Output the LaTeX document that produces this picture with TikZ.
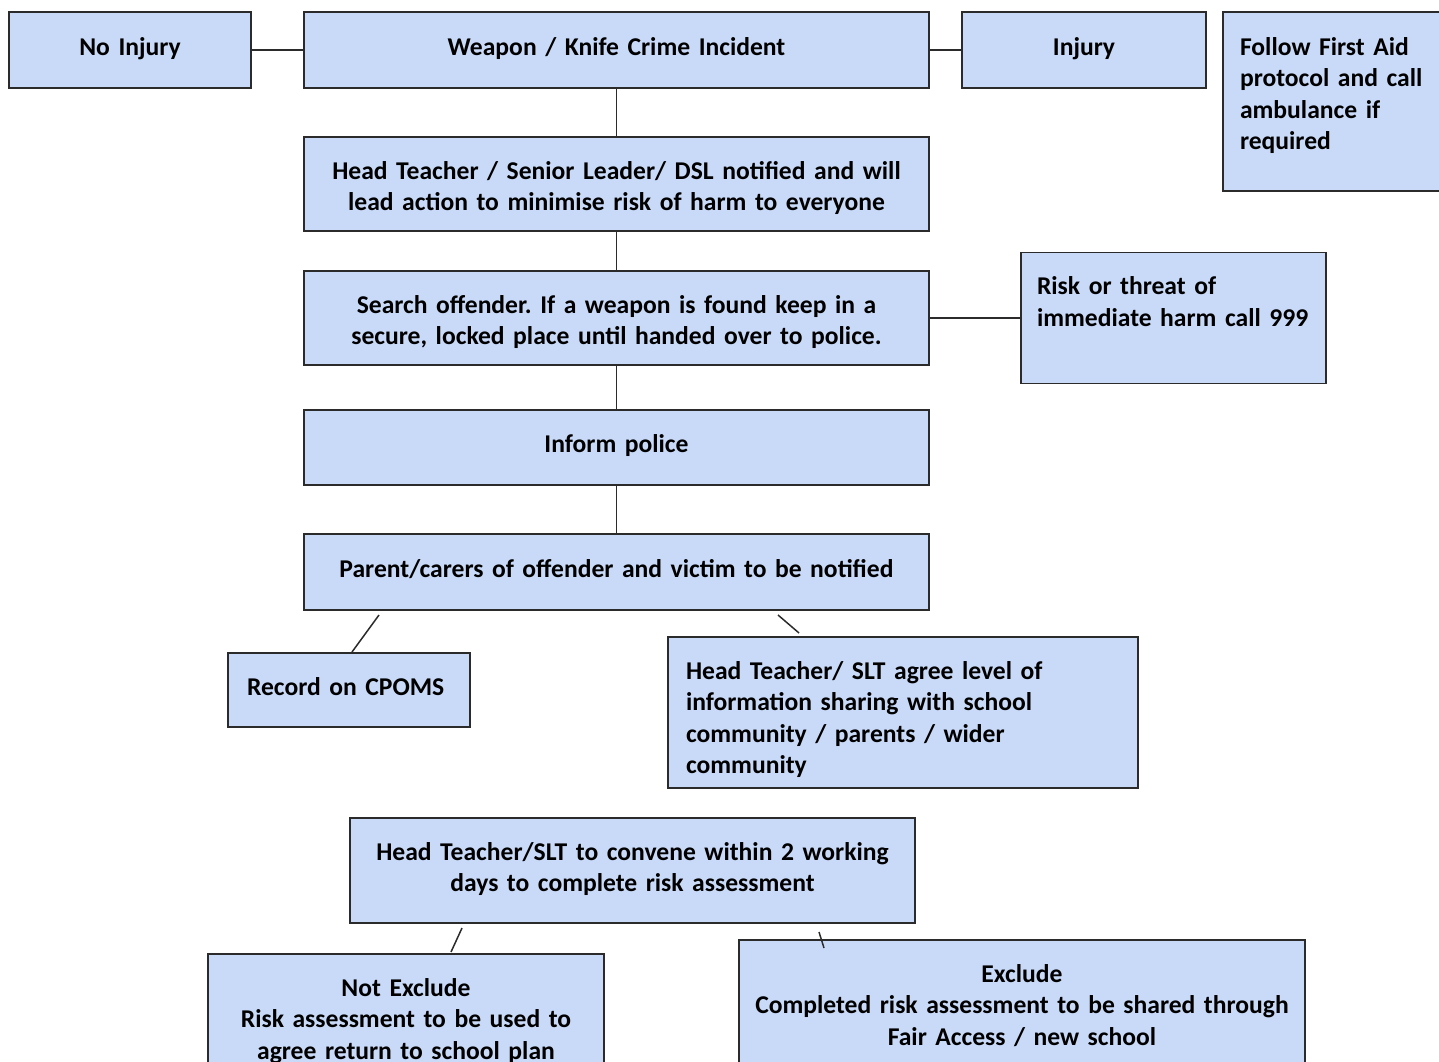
\documentclass[tikz,border=0pt]{standalone}
\usepackage{fontspec}
\setmainfont{Carlito}
\usetikzlibrary{positioning}
\definecolor{boxblue}{HTML}{C9DAF8}
\definecolor{edgegray}{HTML}{2B2B2B}
\frenchspacing

\begin{document}
\begin{tikzpicture}[
  x=0.5pt, y=-0.5pt,
  box/.style={draw=edgegray, fill=boxblue, line width=0.9pt, inner sep=0pt, outer sep=0pt,
    font=\bfseries\fontsize{12.8}{15.75}\selectfont},
  mid/.style={box, align=center, text width=#1},
  lft/.style={box, align=left, text width=#1},
  main/.style={mid=312.5pt},
  single/.style={text height=21.5pt, text depth=16.5pt},
  link/.style={draw=edgegray, line width=0.75pt}
]
\useasboundingbox (0,0) rectangle (1439,1061);

% ======================================================
% =============== TOP ROW ==============================
% ======================================================
\node (incident) [main, single, anchor=north west] at (304,12) {Weapon / Knife Crime Incident};
\node (noinj) [mid=121pt, single, left=26.5pt of incident] {No Injury};
\node (injury) [mid=122pt, single, right=16.5pt of incident] {Injury};
\node (firstaid) [lft=101.5pt, inner xsep=8.5pt, text height=21.5pt, text depth=68pt, anchor=north west] at (1223,12)
  {\mbox{Follow First Aid}\\\mbox{protocol and call}\\\mbox{ambulance if}\\\mbox{required}};

\draw[link] (noinj) -- (incident);
\draw[link] (incident) -- (injury);

% ======================================================
% =============== MAIN COLUMN ==========================
% ======================================================
\node (notified) [main, text height=21pt, text depth=26pt, below=24.5pt of incident]
  {Head Teacher / Senior Leader/ DSL notified and will\\lead action to minimise risk of harm to everyone};
\node (search) [main, text height=21pt, text depth=26pt, below=20pt of notified]
  {Search offender. If a weapon is found keep in a\\secure, locked place until handed over to police.};
\node (police) [main, text height=21pt, text depth=16.5pt, below=22.5pt of search] {Inform police};
\node (parents) [main, single, below=24.5pt of police] {Parent/carers of offender and victim to be notified};

\node (risk) [lft=136.5pt, inner xsep=8pt, text height=21pt, text depth=44.5pt, right=46pt of search]
  {\mbox{Risk or threat of}\\\mbox{immediate harm call 999}};

\draw[link] (incident) -- (notified);
\draw[link] (notified) -- (search);
\draw[link] (search) -- (risk);
\draw[link] (search) -- (police);
\draw[link] (police) -- (parents);

% ======================================================
% =============== AFTER NOTIFYING PARENTS ==============
% ======================================================
\node (cpoms) [lft=102pt, inner xsep=9.5pt, text height=21pt, text depth=16pt, anchor=north west] at (228,653)
  {\mbox{Record on CPOMS}};
\node (sharing) [lft=217pt, inner xsep=9pt, text height=21pt, text depth=54.5pt, anchor=north west] at (668,637)
  {Head Teacher/ SLT agree level of\\information sharing with school\\community / parents / wider\\community};

\coordinate (recA) at (379,615);
\coordinate (recB) at (352,652);
\coordinate (shareA) at (778,615);
\coordinate (shareB) at (799,633);
\draw[link] (recA) -- (recB);
\draw[link] (shareA) -- (shareB);

% ======================================================
% =============== RISK ASSESSMENT ======================
% ======================================================
\node (convene) [mid=282.5pt, text height=21pt, text depth=31.5pt, anchor=north west] at (350,818)
  {Head Teacher/SLT to convene within 2 working\\days to complete risk assessment};
\node (notexcl) [mid=198pt, text height=21pt, text depth=39.5pt, anchor=north west] at (208,954)
  {Not Exclude\\Risk assessment to be used to\\agree return to school plan};
\node (excl) [mid=283pt, text height=21pt, text depth=46.5pt, anchor=north west] at (739,940)
  {Exclude\\Completed risk assessment to be shared through\\Fair Access / new school};

\coordinate (notA) at (462,928);
\coordinate (notB) at (451,952);
\coordinate (exA) at (819,932);
\coordinate (exB) at (824,948);
\draw[link] (notA) -- (notB);
\draw[link] (exA) -- (exB);

\end{tikzpicture}
\end{document}
